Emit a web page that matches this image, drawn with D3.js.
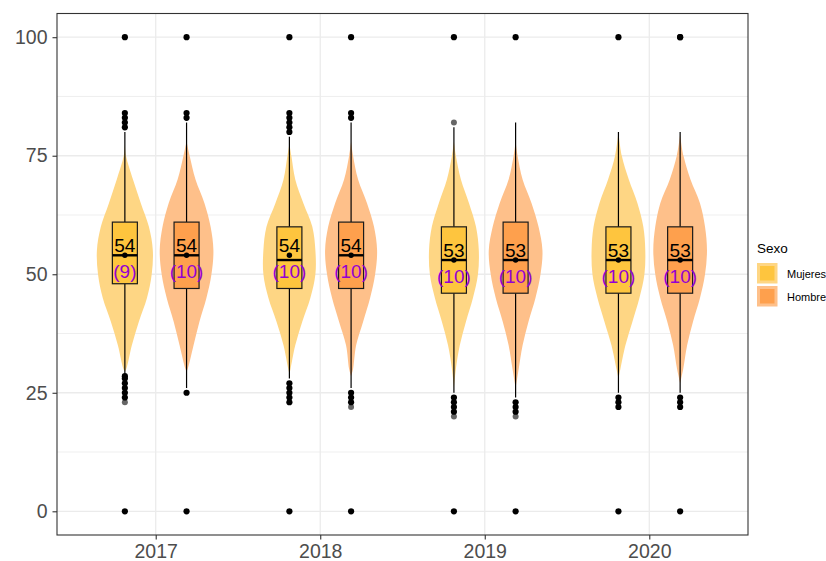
<!DOCTYPE html>
<html><head><meta charset="utf-8">
<script src="https://cdn.jsdelivr.net/npm/d3@7"></script>
<style>body{margin:0;background:#fff}</style>
</head><body><svg id="c" width="826" height="561"></svg>
<script>
// ---------- data ----------
const years = ["2017", "2018", "2019", "2020"];
const sexes = ["Mujeres", "Hombres"];
const yTicks = [0, 25, 50, 75, 100];
const yMinor = [12.5, 37.5, 62.5, 87.5];
// groups in order: 2017 M, 2017 H, 2018 M, 2018 H, 2019 M, 2019 H, 2020 M, 2020 H
const q1 = [48, 47, 47, 47, 46, 46, 46, 46];
const medians = [54, 54, 53, 54, 53, 53, 53, 53];
const q3 = [61, 61, 60, 61, 60, 61, 60, 60];
const whiskerLow = [29, 26, 28, 26, 25, 24, 25, 25];
const whiskerHigh = [80, 82, 79, 82, 81, 82, 80, 80];
const means = [54, 54, 54, 54, 53, 53, 53, 53];
const meanLabels = ["54", "54", "54", "54", "53", "53", "53", "53"];
const nLabels = ["(9)", "(10)", "(10)", "(10)", "(10)", "(10)", "(10)", "(10)"];
// repeated (overlapping) outliers, drawn solid
const outliers = [
  [0, 24, 25, 26, 27, 28, 28.5, 81, 82, 83, 84, 100],
  [0, 25, 83, 84, 100],
  [0, 23, 24, 25, 26, 27, 80, 81, 82, 83, 84, 100],
  [0, 23, 24, 25, 100, 83, 84],
  [0, 21, 22, 23, 24, 100],
  [0, 21, 22, 23, 100],
  [0, 22, 23, 24, 100],
  [0, 22, 23, 24, 100, 100]
];
// single outliers, drawn semi-transparent
const outliersSingle = [
  [23], [], [], [22], [20, 82], [20], [], []
];
const violinLevels = [75, 70, 65, 60, 55, 50, 45, 40, 35, 30];
const violinDensity = [
  [0.04, 0.29, 0.57, 0.86, 1.00, 0.96, 0.79, 0.50, 0.25, 0.05],
  [0.11, 0.32, 0.64, 0.86, 0.96, 0.89, 0.71, 0.46, 0.25, 0.04],
  [0.07, 0.21, 0.50, 0.82, 0.93, 0.93, 0.75, 0.46, 0.21, 0.04],
  [0.07, 0.25, 0.57, 0.82, 0.93, 0.86, 0.68, 0.43, 0.18, 0.07],
  [0.07, 0.25, 0.54, 0.79, 0.89, 0.86, 0.68, 0.43, 0.21, 0.07],
  [0.07, 0.25, 0.57, 0.82, 0.96, 0.89, 0.71, 0.46, 0.25, 0.11],
  [0.12, 0.37, 0.68, 0.89, 0.96, 0.93, 0.75, 0.50, 0.25, 0.07],
  [0.12, 0.37, 0.71, 0.89, 0.96, 0.89, 0.71, 0.46, 0.25, 0.11]
];
const violinTop = [77.5, 78, 77.5, 78, 78, 78, 80, 79.5];
const violinBottom = [29.5, 29.5, 29, 28.5, 26, 26, 28, 27];

// ---------- layout ----------
const svg = d3.select("#c");
const font = "'Liberation Sans', Arial, Helvetica, sans-serif";
const P = {left: 57, right: 748, top: 13.5, bottom: 535};
const y = d3.scaleLinear().domain([-5, 105]).range([P.bottom, P.top]);
const x = d3.scalePoint().domain(years).range([P.left, P.right]).padding(0.6);
const step = x.step();
const dodge = d3.scaleBand().domain(sexes).range([-step * 0.375, step * 0.375]);
const boxColor = d3.scaleOrdinal().domain(sexes).range(["#FEC53E", "#FEA04D"]);
const violinColor = d3.scaleOrdinal().domain(sexes).range(["#FED684", "#FEC08A"]);
const wScale = d3.scaleLinear().domain([0, 1]).range([0, step * 0.17]);
const boxHalf = step * 0.076;

const groups = [];
years.forEach((yr, yi) => sexes.forEach((sx, si) => {
  const i = yi * 2 + si;
  groups.push({i, yr, sx, cx: x(yr) + dodge(sx) + dodge.bandwidth() / 2});
}));

// panel background + grid
svg.append("rect").attr("x", P.left).attr("y", P.top).attr("width", P.right - P.left)
  .attr("height", P.bottom - P.top).attr("fill", "#fff");
svg.append("g").selectAll("line").data(yMinor).join("line")
  .attr("x1", P.left).attr("x2", P.right).attr("y1", d => y(d)).attr("y2", d => y(d))
  .attr("stroke", "#EBEBEB").attr("stroke-width", 0.8);
svg.append("g").selectAll("line").data(yTicks).join("line")
  .attr("x1", P.left).attr("x2", P.right).attr("y1", d => y(d)).attr("y2", d => y(d))
  .attr("stroke", "#EBEBEB").attr("stroke-width", 1.3);
svg.append("g").selectAll("line").data(years).join("line")
  .attr("y1", P.top).attr("y2", P.bottom).attr("x1", d => x(d)).attr("x2", d => x(d))
  .attr("stroke", "#EBEBEB").attr("stroke-width", 1.3);

// violins
const area = d3.area().curve(d3.curveCatmullRom.alpha(0.5))
  .y(d => y(d.v)).x0(d => d.cx - wScale(d.w)).x1(d => d.cx + wScale(d.w));
svg.append("g").selectAll("path").data(groups).join("path")
  .attr("d", g => {
    const pts = [{v: violinTop[g.i], w: 0, cx: g.cx}]
      .concat(violinLevels.map((v, k) => ({v, w: violinDensity[g.i][k], cx: g.cx})))
      .concat([{v: violinBottom[g.i], w: 0, cx: g.cx}]);
    return area(pts);
  })
  .attr("fill", g => violinColor(g.sx));

// boxplots
const bx = svg.append("g");
groups.forEach(g => {
  bx.append("line").attr("x1", g.cx).attr("x2", g.cx)
    .attr("y1", y(whiskerHigh[g.i])).attr("y2", y(q3[g.i]))
    .attr("stroke", "#000").attr("stroke-width", 1.2);
  bx.append("line").attr("x1", g.cx).attr("x2", g.cx)
    .attr("y1", y(q1[g.i])).attr("y2", y(whiskerLow[g.i]))
    .attr("stroke", "#000").attr("stroke-width", 1.2);
  bx.append("rect").attr("x", g.cx - boxHalf).attr("width", boxHalf * 2)
    .attr("y", y(q3[g.i])).attr("height", y(q1[g.i]) - y(q3[g.i]))
    .attr("fill", boxColor(g.sx)).attr("stroke", "#1a1a1a").attr("stroke-width", 1.2);
  bx.append("line").attr("x1", g.cx - boxHalf).attr("x2", g.cx + boxHalf)
    .attr("y1", y(medians[g.i])).attr("y2", y(medians[g.i]))
    .attr("stroke", "#000").attr("stroke-width", 2.4);
  bx.selectAll(null).data(outliersSingle[g.i]).join("circle")
    .attr("cx", g.cx).attr("cy", d => y(d)).attr("r", 3)
    .attr("fill", "#000").attr("fill-opacity", 0.6);
  bx.selectAll(null).data(outliers[g.i]).join("circle")
    .attr("cx", g.cx).attr("cy", d => y(d)).attr("r", 3.1)
    .attr("fill", "#000");
  bx.append("circle").attr("cx", g.cx).attr("cy", y(means[g.i])).attr("r", 2.7).attr("fill", "#000");
  bx.append("text").attr("x", g.cx).attr("y", y(means[g.i]) - 3.5)
    .attr("text-anchor", "middle").attr("font-family", font).attr("font-size", 19)
    .attr("fill", "#000").text(meanLabels[g.i]);
  bx.append("text").attr("x", g.cx).attr("y", y(means[g.i]) + 22.5)
    .attr("text-anchor", "middle").attr("font-family", font).attr("font-size", 19)
    .attr("fill", "#9400D3").text(nLabels[g.i]);
});

// panel border
svg.append("rect").attr("x", P.left).attr("y", P.top).attr("width", P.right - P.left)
  .attr("height", P.bottom - P.top).attr("fill", "none").attr("stroke", "#333").attr("stroke-width", 1.1);

// axes
const yAxis = svg.append("g").attr("transform", `translate(${P.left},0)`)
  .call(d3.axisLeft(y).tickValues(yTicks).tickSize(4.5).tickPadding(5));
const xAxis = svg.append("g").attr("transform", `translate(0,${P.bottom})`)
  .call(d3.axisBottom(x).tickSize(4.5).tickPadding(5));
[yAxis, xAxis].forEach(a => {
  a.select(".domain").remove();
  a.selectAll(".tick line").attr("stroke", "#333").attr("stroke-width", 1.1);
  a.selectAll(".tick text").attr("fill", "#4D4D4D").attr("font-family", font).attr("font-size", 19.5);
});

// legend
const lg = svg.append("g").attr("transform", "translate(757,0)");
lg.append("text").attr("x", 0).attr("y", 253).attr("font-family", font).attr("font-size", 13.5)
  .attr("fill", "#000").text("Sexo");
sexes.forEach((s, k) => {
  const ky = 263 + k * 23;
  lg.append("rect").attr("x", 0).attr("y", ky).attr("width", 20.5).attr("height", 20.5)
    .attr("fill", violinColor(s));
  lg.append("rect").attr("x", 3).attr("y", ky + 3).attr("width", 14.5).attr("height", 14.5)
    .attr("fill", boxColor(s));
  lg.append("text").attr("x", 30).attr("y", ky + 14.5).attr("font-family", font).attr("font-size", 11)
    .attr("fill", "#000").text(s);
});
</script></body></html>
